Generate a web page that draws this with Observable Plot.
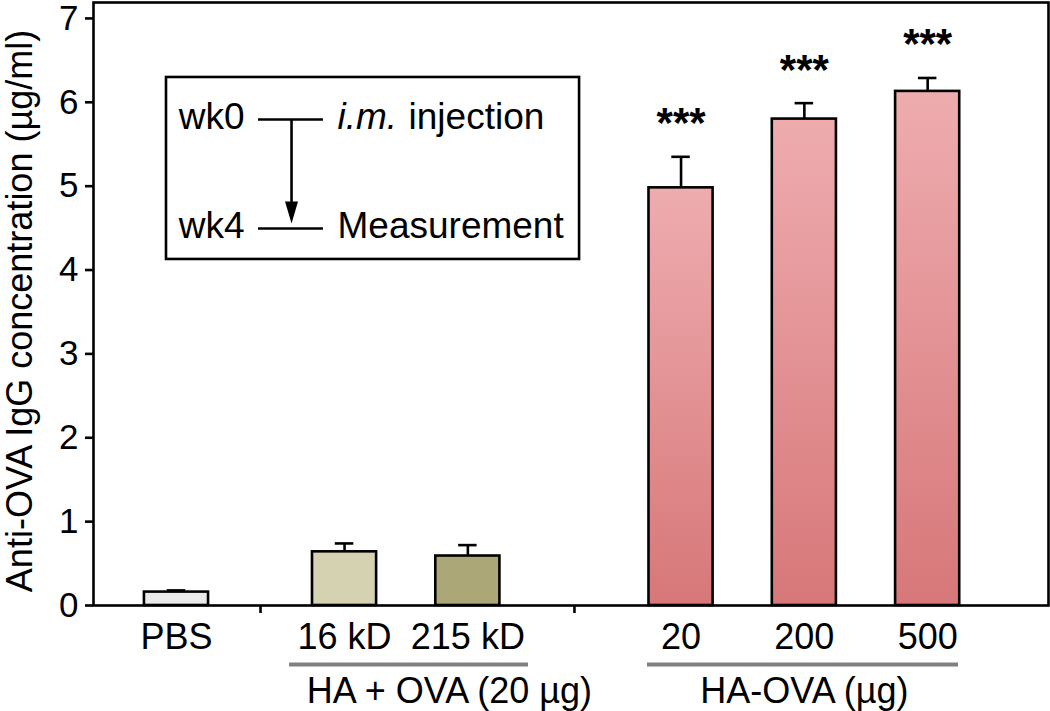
<!DOCTYPE html>
<html>
<head>
<meta charset="utf-8">
<script src="https://cdn.jsdelivr.net/npm/d3@7"></script>
<script src="https://cdn.jsdelivr.net/npm/@observablehq/plot@0.6"></script>
<style>
  html, body { margin: 0; padding: 0; background: white; }
  #chart { width: 1050px; height: 711px; }
</style>
</head>
<body>
<div id="chart"></div>
<script>
// ---------- data ----------
const categories   = ["PBS", "16 kD", "215 kD", "20", "200", "500"];
const groupOfBar   = [0, 1, 1, 2, 2, 2];
const groupNames   = ["", "HA + OVA (20 µg)", "HA-OVA (µg)"];
const means        = [0.16, 0.64, 0.59, 4.98, 5.80, 6.13];
const sems         = [0.02, 0.10, 0.13, 0.37, 0.19, 0.16];
const significance = ["", "", "", "***", "***", "***"];
const yTicks       = [0, 1, 2, 3, 4, 5, 6, 7];
const yTitle       = "Anti-OVA IgG concentration (µg/ml)";
const insetLines   = [["wk0", "i.m.", "injection"], ["wk4", "", "Measurement"]];

// ---------- layout (slot units along x) ----------
const firstOffset = 0.673;
const groupGap    = [0, 0.363, 0.729];
const halfBar     = 0.26;
const halfCap     = 0.075;
let acc = 0;
const pos = categories.map((c, i) => {
  if (i > 0 && groupOfBar[i] !== groupOfBar[i - 1]) acc += groupGap[groupOfBar[i]];
  return firstOffset + i + acc;
});
const rows = categories.map((c, i) => ({
  cat: c, pos: pos[i], mean: means[i], sem: sems[i], sig: significance[i], group: groupOfBar[i]
}));
const separators = [];
for (let i = 1; i < rows.length; i++)
  if (rows[i].group !== rows[i - 1].group) separators.push((rows[i].pos + rows[i - 1].pos) / 2);

const groupLayout = [
  null,
  {padL: 0.446, padR: 0.492, shift: 0.35},
  {padL: 0.272, padR: 0.25, shift: 0.0}
];
const groupRows = [1, 2].map(g => {
  const members = rows.filter(r => r.group === g);
  const first = members[0].pos, last = members[members.length - 1].pos;
  const L = groupLayout[g];
  return {name: groupNames[g], x1: first - L.padL, x2: last + L.padR, lx: (first + last) / 2 + L.shift};
});

const inset = {x1: 0.592, x2: 3.942, y1: 4.126, y2: 6.296,
               lineX1: 1.338, lineX2: 1.865, textR: 1.225, textL: 1.979, textL2: 2.555,
               rowY: [5.795, 4.496], arrowX: 1.606, arrowEnd: 4.78, arrowTip: 4.555};
const insetRows = insetLines.map((l, i) => ({wk: l[0], it: l[1], rest: l[2], y: inset.rowY[i]}));

const barFills = ["#EAEAEA", "#D5D2B1", "#ABA777", "url(#pinkGrad)", "url(#pinkGrad)", "url(#pinkGrad)"];

const arrowHead = {
  draw(context) {
    context.moveTo(0, 0);
    context.lineTo(-6.5, -22);
    context.lineTo(6.5, -22);
    context.closePath();
  }
};

const font = "'Liberation Sans', Arial, Helvetica, sans-serif";
const SW = 2.6;

const svg = Plot.plot({
  width: 1050,
  height: 711,
  marginLeft: 93,
  marginRight: 2,
  marginTop: 2,
  marginBottom: 106,
  style: {fontFamily: font, background: "white", color: "black", overflow: "visible"},
  x: {domain: [0, 7.745], axis: null},
  y: {domain: [0, 7.19], axis: null},
  color: {domain: categories, range: barFills},
  marks: [
    Plot.rectY(rows, {x1: d => d.pos - halfBar, x2: d => d.pos + halfBar, y1: 0, y2: "mean",
      fill: "cat", stroke: "black", strokeWidth: SW}),
    Plot.ruleX(rows, {x: "pos", y1: "mean", y2: d => d.mean + d.sem, stroke: "black", strokeWidth: SW}),
    Plot.ruleY(rows, {y: d => d.mean + d.sem, x1: d => d.pos - halfCap, x2: d => d.pos + halfCap,
      stroke: "black", strokeWidth: SW}),
    Plot.text(rows.filter(d => d.sig), {x: "pos", y: d => d.mean + d.sem, text: "sig",
      dy: -33, fontSize: 42, fontWeight: "bold", fill: "black"}),
    Plot.frame({stroke: "black", strokeWidth: SW}),
    Plot.axisY({ticks: yTicks, tickSize: 8, tickPadding: 7, fontSize: 35, label: null, strokeWidth: SW}),
    Plot.axisX({ticks: pos, tickFormat: d => categories[pos.indexOf(d)], tickSize: 0, tickPadding: 18,
      fontSize: 36, label: null}),
    Plot.axisX({ticks: separators, tickFormat: () => "", tickSize: 8, label: null, strokeWidth: SW}),
    Plot.ruleY(groupRows, {x1: "x1", x2: "x2", y: 0, dy: 59, stroke: "#808080", strokeWidth: 4}),
    Plot.text(groupRows, {x: "lx", y: 0, dy: 72, text: "name", lineAnchor: "top", fontSize: 36, fill: "black"}),
    Plot.text([yTitle], {frameAnchor: "left", dx: -87, dy: 7, rotate: -90, lineAnchor: "top",
      textAnchor: "middle", fontSize: 36, fill: "black"}),
    Plot.rect([0], {x1: inset.x1, x2: inset.x2, y1: inset.y1, y2: inset.y2,
      fill: "white", stroke: "black", strokeWidth: SW}),
    Plot.ruleY(insetRows, {y: "y", x1: inset.lineX1, x2: inset.lineX2, stroke: "black", strokeWidth: SW}),
    Plot.text(insetRows, {x: inset.textR, y: "y", text: "wk", textAnchor: "end", dy: -2, fontSize: 37, fill: "black"}),
    Plot.text(insetRows.filter(d => d.it), {x: inset.textL, y: "y", text: "it", textAnchor: "start", dy: -2,
      fontSize: 37, fontStyle: "italic", fill: "black"}),
    Plot.text(insetRows, {x: d => d.it ? inset.textL2 : inset.textL, y: "y", text: "rest", textAnchor: "start",
      dy: -2, fontSize: 37, fill: "black"}),
    Plot.ruleX([inset.arrowX], {x: d => d, y1: inset.rowY[0], y2: inset.arrowEnd, stroke: "black", strokeWidth: SW}),
    Plot.dot([inset.arrowX], {x: d => d, y: inset.arrowTip, symbol: arrowHead, fill: "black", stroke: "none", r: 6})
  ]
});

const defs = d3.select(svg).insert("defs", ":first-child");
const grad = defs.append("linearGradient").attr("id", "pinkGrad")
  .attr("x1", 0).attr("y1", 0).attr("x2", 0).attr("y2", 1);
grad.append("stop").attr("offset", "0%").attr("stop-color", "#EEACAF");
grad.append("stop").attr("offset", "100%").attr("stop-color", "#D77779");

document.getElementById("chart").appendChild(svg);
</script>
</body>
</html>
